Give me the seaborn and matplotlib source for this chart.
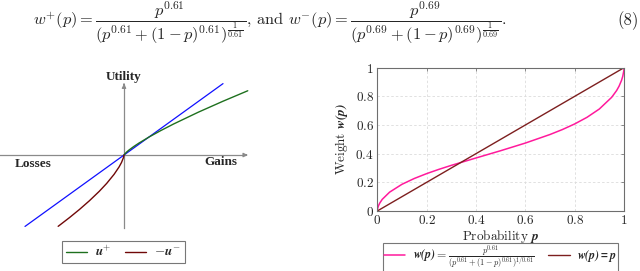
import matplotlib
matplotlib.use('Agg')
import matplotlib.pyplot as plt
import seaborn as sns

sns.set_theme(style='white')
plt.rcParams['font.family'] = 'serif'
plt.rcParams['font.serif'] = ['cmr10']
plt.rcParams['mathtext.fontset'] = 'cm'
plt.rcParams['axes.unicode_minus'] = False

# left panel: value function
gain_x = [0, 0.01, 0.05, 0.1, 0.2, 0.3, 0.5, 0.75, 1.0, 1.5, 2.0, 2.5]
gain_u = [0, 0.022, 0.080, 0.139, 0.241, 0.333, 0.500, 0.690, 0.868, 1.199, 1.507, 1.80]
loss_x = [0, -0.01, -0.05, -0.1, -0.2, -0.35, -0.5, -0.7, -0.9, -1.1, -1.33]
loss_u = [0, -0.068, -0.208, -0.335, -0.540, -0.795, -1.017, -1.282, -1.525, -1.751, -1.997]
lin_x = [-2, 2]
lin_u = [-2, 2]

# right panel: probability weighting
prob = [0, 0.001, 0.005, 0.01, 0.02, 0.05, 0.1, 0.15, 0.2, 0.25, 0.3, 0.4, 0.5,
        0.6, 0.7, 0.75, 0.8, 0.85, 0.9, 0.95, 0.97, 0.98, 0.99, 0.995, 0.999, 1]
weight = [0, 0.0145, 0.0372, 0.0552, 0.0811, 0.1316, 0.1863, 0.2269, 0.2608, 0.2908,
          0.3184, 0.3700, 0.4207, 0.4740, 0.5338, 0.5682, 0.6074, 0.6537, 0.7117,
          0.7933, 0.8404, 0.8710, 0.9117, 0.9402, 0.9767, 1]
diag = [0, 1]
tick_vals = [0, 0.2, 0.4, 0.6, 0.8, 1]
tick_labels = ['0', '0.2', '0.4', '0.6', '0.8', '1']

fig = plt.figure(figsize=(6.4, 2.71), dpi=100)

eq = (r"$w^{+}(p) = \dfrac{p^{0.61}}{(p^{0.61} + (1-p)^{0.61})^{\frac{1}{0.61}}}$, and "
      r"$w^{-}(p) = \dfrac{p^{0.69}}{(p^{0.69} + (1-p)^{0.69})^{\frac{1}{0.69}}}$.")
fig.text(33 / 640, 1 - 22.5 / 271, eq, fontsize=11.8, ha='left', va='center')
fig.text(639 / 640, 1 - 21 / 271, '(8)', fontsize=12, ha='right', va='center')

# ---- left: utility
ax = fig.add_axes([0, 0.1605, 0.3906, 0.559])
sns.lineplot(x=lin_x, y=lin_u, color='#1010ff', lw=0.9, ax=ax, legend=False)
sns.lineplot(x=gain_x, y=gain_u, color='#1e701e', lw=1.0, ax=ax, legend=False,
             label=r'$\mathbfit{u}^{+}$')
sns.lineplot(x=loss_x, y=loss_u, color='#700808', lw=1.0, ax=ax, legend=False,
             label=r'$-\mathbfit{u}^{-}$')
ax.set_xlim(-2.505, 2.545)
ax.set_ylim(-2.03, 2.213)
for s in ['top', 'right']:
    ax.spines[s].set_visible(False)
ax.spines['left'].set_position(('data', 0))
ax.spines['bottom'].set_position(('data', 0))
ax.spines['left'].set_bounds(-2.03, 1.95)
ax.spines['bottom'].set_bounds(-2.505, 2.45)
for s in ['left', 'bottom']:
    ax.spines[s].set_color('#8a8a8a')
    ax.spines[s].set_linewidth(0.9)
    ax.spines[s].set_zorder(0)
ax.set_xticks([-2, -1, 1, 2])
ax.set_yticks([-1, 1])
ax.tick_params(direction='inout', length=3, width=0.6, color='#9a9a9a',
               labelbottom=False, labelleft=False)
ax.annotate('', xy=(2.5, 0), xytext=(2.4, 0),
            arrowprops=dict(arrowstyle='-|>', color='#8a8a8a', lw=0.9,
                            mutation_scale=6))
ax.annotate('', xy=(0, 2.0), xytext=(0, 1.9),
            arrowprops=dict(arrowstyle='-|>', color='#8a8a8a', lw=0.9,
                            mutation_scale=6))
bold = dict(fontfamily='Liberation Serif', fontweight='bold', fontsize=9.5)
ax.text(0, 2.18, 'Utility', ha='center', va='center', clip_on=False, **bold)
ax.text(1.95, -0.19, 'Gains', ha='center', va='center', **bold)
ax.text(-1.84, -0.25, 'Losses', ha='center', va='center', **bold)

h1, l1 = ax.get_legend_handles_labels()
leg1 = fig.legend(h1, l1, loc='center', bbox_to_anchor=(123.5 / 640, 1 - 252 / 271),
                  ncol=2, fontsize=9.5, frameon=True, fancybox=False, edgecolor='#555555',
                  handlelength=1.6, handletextpad=0.6, columnspacing=1.0, borderpad=0.3)
leg1.get_frame().set_linewidth(0.8)

# ---- right: weighting function
ax2 = fig.add_axes([0.5895, 0.2214, 0.3855, 0.5288])
sns.lineplot(x=prob, y=weight, color='#ff1a9c', lw=1.1, ax=ax2, legend=False,
             label=r'$\mathbfit{w(p)} = \frac{p^{0.61}}{(p^{0.61}+(1-p)^{0.61})^{1/0.61}}$')
sns.lineplot(x=diag, y=diag, color='#7d1f1f', lw=1.0, ax=ax2, legend=False,
             label=r'$\mathbfit{w(p) = p}$')
ax2.set_xlim(0, 1)
ax2.set_ylim(0, 1)
ax2.set_xticks(tick_vals)
ax2.set_yticks(tick_vals)
ax2.set_xticklabels(['$' + t + '$' for t in tick_labels])
ax2.set_yticklabels(['$' + t + '$' for t in tick_labels])
ax2.tick_params(direction='in', length=2.5, width=0.6, color='#777777',
                labelsize=9.5, pad=2.5, top=True, right=True)
ax2.grid(True, color='#dcdcdc', ls=(0, (3, 2.5)), lw=0.6)
for s in ax2.spines.values():
    s.set_color('#6e6e6e')
    s.set_linewidth(0.8)
ax2.set_xlabel(r'Probability $\mathbfit{p}$', fontsize=9.5, labelpad=0.5)
ax2.set_ylabel(r'Weight $\mathbfit{w(p)}$', fontsize=9.5, labelpad=4)

h2, l2 = ax2.get_legend_handles_labels()
leg2 = fig.legend(h2, l2, loc='center', bbox_to_anchor=(500.5 / 640, 1 - 257.5 / 271),
                  ncol=2, fontsize=8.6, frameon=True, fancybox=False, edgecolor='#555555',
                  handlelength=1.8, handletextpad=0.6, columnspacing=1.2, borderpad=0.05)
leg2.get_frame().set_linewidth(0.8)

fig.savefig('out.png', dpi=100)
